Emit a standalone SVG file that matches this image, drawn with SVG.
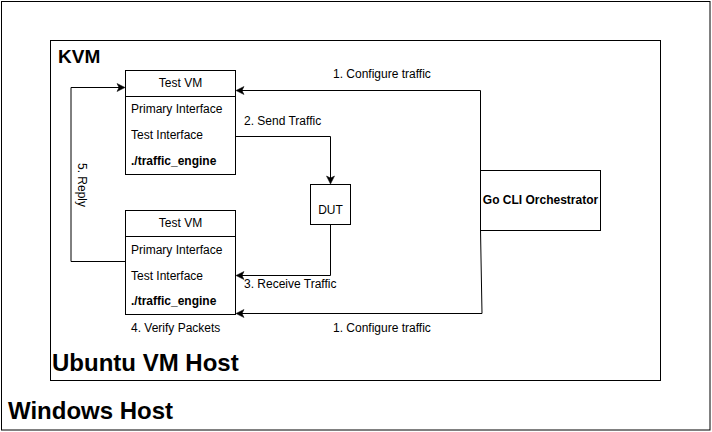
<svg xmlns="http://www.w3.org/2000/svg" width="712" height="432" viewBox="0 0 712 432">
<style>
.box{fill:#fff;stroke:#000;stroke-width:1}
.frame{fill:none;stroke:#000;stroke-width:1}
.t{font-family:"Liberation Sans",Arial,sans-serif;font-size:12px;fill:#000}
.b{font-weight:bold}
.big{font-family:"Liberation Sans",Arial,sans-serif;font-weight:bold;fill:#000}
.c{text-anchor:middle}
.edge{fill:none;stroke:#000;stroke-width:1}
</style>
<defs>
<marker id="arr" markerUnits="userSpaceOnUse" markerWidth="10" markerHeight="10" viewBox="0 0 10 10" refX="8" refY="5" orient="auto">
<path d="M1,1 L9,5 L1,9 L3,5 Z" fill="#000" stroke="#000" stroke-width="0.5"/>
</marker>
</defs>
<rect width="712" height="432" fill="#fff"/>
<g id="windows-host">
<rect class="frame" x="1.5" y="1.5" width="708.5" height="428.5"/>
<text class="big" x="8" y="419" font-size="24">Windows Host</text>
</g>
<g id="ubuntu-vm-host">
<rect class="frame" x="50.5" y="40.5" width="610" height="340"/>
<text class="big" x="52" y="371" font-size="24">Ubuntu VM Host</text>
<text class="big" x="58" y="63" font-size="19">KVM</text>
</g>
<g id="connectors">
<path class="edge" d="M480.5,170 L480.5,90.5 L237,90.5" marker-end="url(#arr)"/>
<path class="edge" d="M480.5,230 L482,313.5 L237,313.5" marker-end="url(#arr)"/>
<path class="edge" d="M235,136.5 L330.5,136.5 L330.5,183" marker-end="url(#arr)"/>
<path class="edge" d="M330.5,224 L330.5,275.5 L237,275.5" marker-end="url(#arr)"/>
<path class="edge" d="M125,261.5 L71,261.5 L71,87.5 L124,87.5" marker-end="url(#arr)"/>
<text class="t" x="333" y="78">1. Configure traffic</text>
<text class="t" x="333" y="332">1. Configure traffic</text>
<text class="t" x="244" y="125">2. Send Traffic</text>
<text class="t" x="244" y="288">3. Receive Traffic</text>
<text class="t" x="131" y="332">4. Verify Packets</text>
<text class="t c" transform="translate(77.5,185) rotate(90)">5. Reply</text>
</g>
<g id="test-vm-1">
<rect class="box" x="125.5" y="70.5" width="110" height="104"/>
<line class="edge" x1="125.5" y1="96.5" x2="235.5" y2="96.5"/>
<text class="t c" x="180.5" y="87">Test VM</text>
<text class="t" x="131" y="113">Primary Interface</text>
<text class="t" x="131" y="139">Test Interface</text>
<text class="t b" x="131" y="165">./traffic_engine</text>
</g>
<g id="test-vm-2">
<rect class="box" x="125.5" y="210.5" width="110" height="104"/>
<line class="edge" x1="125.5" y1="236.5" x2="235.5" y2="236.5"/>
<text class="t c" x="180.5" y="227">Test VM</text>
<text class="t" x="131" y="254">Primary Interface</text>
<text class="t" x="131" y="280">Test Interface</text>
<text class="t b" x="131" y="305">./traffic_engine</text>
</g>
<g id="dut">
<rect class="box" x="310.5" y="184.5" width="40" height="40"/>
<text class="t c" x="330.5" y="214">DUT</text>
</g>
<g id="go-cli-orchestrator">
<rect class="box" x="480.5" y="170.5" width="120" height="60"/>
<text class="t b c" x="540.5" y="204">Go CLI Orchestrator</text>
</g>
</svg>
